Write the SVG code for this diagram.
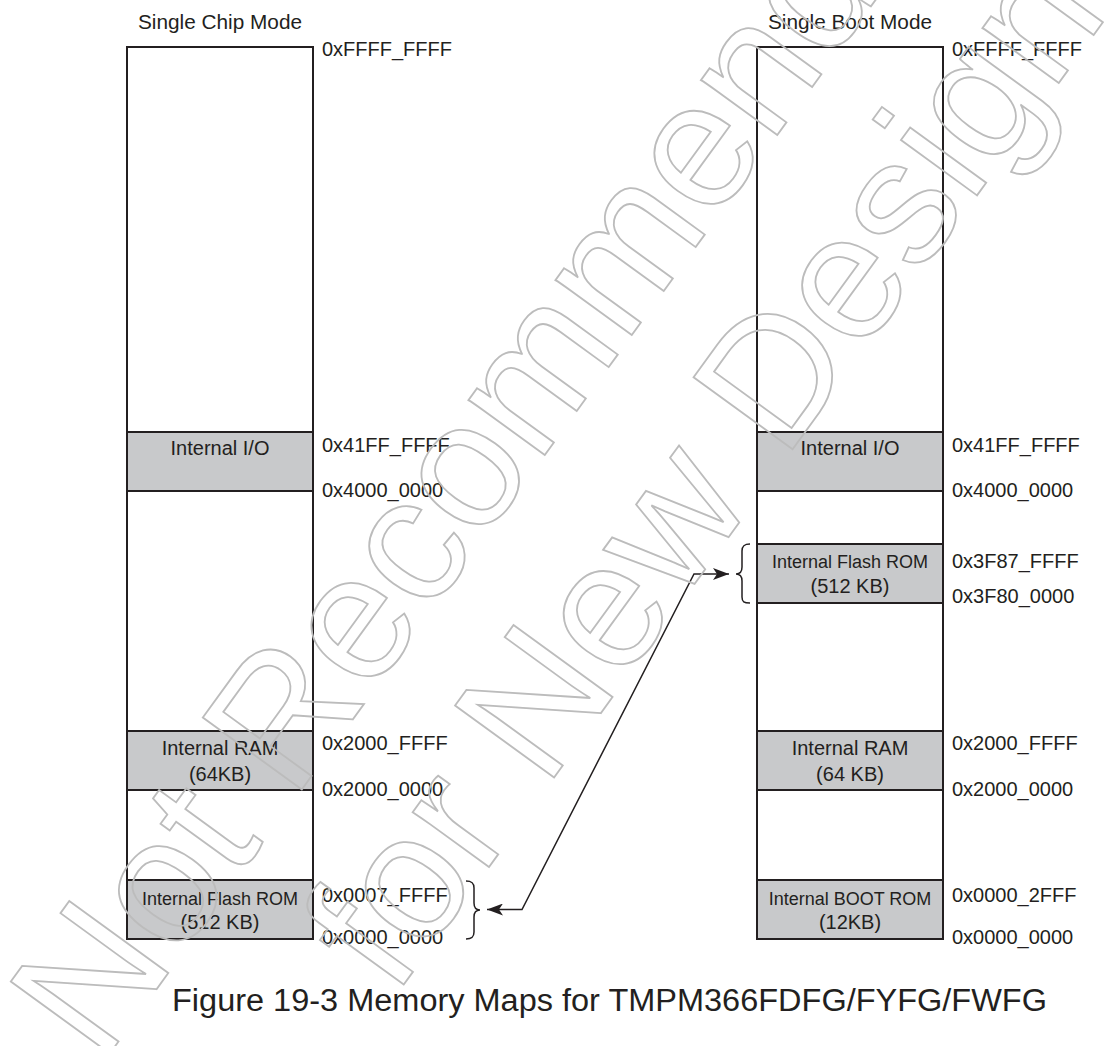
<svg xmlns="http://www.w3.org/2000/svg" width="1115" height="1046" viewBox="0 0 1115 1046">
<style>
.t{font-family:"Liberation Sans",Arial,Helvetica,sans-serif;fill:#231f20}
.lbl{font-size:20px}
.hd{font-size:20px}
.bt{font-size:20px;text-anchor:middle}
.bs{font-size:18px;text-anchor:middle}
.col{fill:#fff;stroke:#231f20;stroke-width:2}
.blk{fill:#c8c9cb;stroke:#231f20;stroke-width:2}
.brace{fill:none;stroke:#231f20;stroke-width:1.5}
.conn{fill:none;stroke:#231f20;stroke-width:1.5}
.wm{font-family:"Liberation Sans",Arial,Helvetica,sans-serif;font-size:178px;fill:none;stroke:#bcbcbc;stroke-width:1.8;text-anchor:middle}
</style>
<defs>
<marker id="ah" viewBox="0 0 16 12" refX="16" refY="6" markerWidth="16" markerHeight="12" markerUnits="userSpaceOnUse" orient="auto-start-reverse">
<path d="M0,0 L16,6 L0,12 L4,6 Z" fill="#231f20"/>
</marker>
</defs>
<rect width="1115" height="1046" fill="#fff"/>

<g id="chip-mode">
<text class="t hd" x="138" y="29" textLength="164" lengthAdjust="spacingAndGlyphs">Single Chip Mode</text>
<rect class="col" x="127" y="47" width="186" height="892"/>
<text class="t lbl" x="322" y="56">0xFFFF_FFFF</text>
</g>
<g id="chip-io">
<rect class="blk" x="127" y="432" width="186" height="59"/>
<text class="t bt" x="220" y="455">Internal I/O</text>
<text class="t lbl" x="322" y="452">0x41FF_FFFF</text>
<text class="t lbl" x="322" y="497">0x4000_0000</text>
</g>
<g id="chip-ram">
<rect class="blk" x="127" y="731" width="186" height="59"/>
<text class="t bt" x="220" y="755">Internal RAM</text>
<text class="t bt" x="220" y="781">(64KB)</text>
<text class="t lbl" x="322" y="750">0x2000_FFFF</text>
<text class="t lbl" x="322" y="796">0x2000_0000</text>
</g>
<g id="chip-flash">
<rect class="blk" x="127" y="880" width="186" height="59"/>
<text class="t bs" x="220" y="905">Internal Flash ROM</text>
<text class="t bt" x="220" y="929">(512 KB)</text>
<text class="t lbl" x="322" y="902">0x0007_FFFF</text>
<text class="t lbl" x="322" y="944">0x0000_0000</text>
<path class="brace" d="M466,881 C472,881 474,883 474,888 L474,903 C474,907 476,910 480,910 C476,910 474,913 474,917 L474,932 C474,937 472,939 466,939"/>
</g>

<g id="boot-mode">
<text class="t hd" x="768" y="29" textLength="164" lengthAdjust="spacingAndGlyphs">Single Boot Mode</text>
<rect class="col" x="757" y="47" width="186" height="892"/>
<text class="t lbl" x="952" y="56">0xFFFF_FFFF</text>
</g>
<g id="boot-io">
<rect class="blk" x="757" y="432" width="186" height="59"/>
<text class="t bt" x="850" y="455">Internal I/O</text>
<text class="t lbl" x="952" y="452">0x41FF_FFFF</text>
<text class="t lbl" x="952" y="497">0x4000_0000</text>
</g>
<g id="boot-flash">
<rect class="blk" x="757" y="544" width="186" height="59"/>
<text class="t bs" x="850" y="568">Internal Flash ROM</text>
<text class="t bt" x="850" y="593">(512 KB)</text>
<text class="t lbl" x="952" y="568">0x3F87_FFFF</text>
<text class="t lbl" x="952" y="603">0x3F80_0000</text>
<path class="brace" d="M750,544 C744,544 742,546 742,551 L742,567 C742,571 740,574 736,574 C740,574 742,577 742,581 L742,597 C742,602 744,603 750,603"/>
</g>
<g id="boot-ram">
<rect class="blk" x="757" y="731" width="186" height="59"/>
<text class="t bt" x="850" y="755">Internal RAM</text>
<text class="t bt" x="850" y="781">(64 KB)</text>
<text class="t lbl" x="952" y="750">0x2000_FFFF</text>
<text class="t lbl" x="952" y="796">0x2000_0000</text>
</g>
<g id="boot-rom">
<rect class="blk" x="757" y="880" width="186" height="59"/>
<text class="t bs" x="850" y="905">Internal BOOT ROM</text>
<text class="t bt" x="850" y="929">(12KB)</text>
<text class="t lbl" x="952" y="902">0x0000_2FFF</text>
<text class="t lbl" x="952" y="944">0x0000_0000</text>
</g>

<g id="connectors">
<path class="conn" d="M487,909.5 L522,909.5 L694,574 L729,574" marker-start="url(#ah)" marker-end="url(#ah)"/>
</g>

<text class="t" x="172" y="1011" font-size="31" textLength="875" lengthAdjust="spacingAndGlyphs">Figure 19-3 Memory Maps for TMPM366FDFG/FYFG/FWFG</text>

<g id="watermark">
<text class="wm" transform="translate(552,445) rotate(-54)">Not Recommended</text>
<text class="wm" transform="translate(752,505) rotate(-54)">for New Design</text>
</g>
</svg>
